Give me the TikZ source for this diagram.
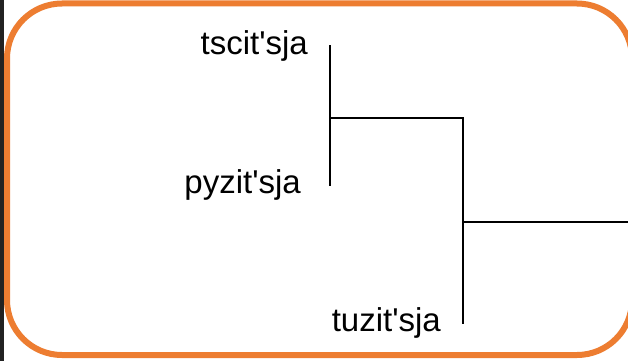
\documentclass[tikz,border=0pt]{standalone}
\usepackage{fontspec}
\setmainfont{Liberation Sans}
\usetikzlibrary{positioning}
\usepackage{xcolor}
\definecolor{framecol}{HTML}{ED7D31}
\definecolor{edgecol}{HTML}{222222}
\tikzstyle{frame}=[draw=framecol,line width=6,rounded corners=55]
\tikzstyle{branch}=[line width=2,line cap=rect]
\tikzstyle{leaf}=[font=\fontsize{33}{33}\selectfont,inner sep=0,anchor=east]

\begin{document}
\begin{tikzpicture}[x=1pt,y=-1pt]
  \useasboundingbox (0,0) rectangle (628,361);
  \fill[white] (0,0) rectangle (628,361);
  \fill[edgecol] (0,0) rectangle (4,361);
  \draw[frame] (7,3.5) rectangle (632,355);
  % tips and joints of the tree
  \coordinate (tip1) at (330,46);
  \coordinate (tip2) at (330,185);
  \coordinate (tip3) at (463,323);
  \coordinate (join1) at (330,118);
  \coordinate (join2) at (463,118);
  \coordinate (join3) at (463,222);
  \coordinate (root) at (630,222);
  \node[leaf,left=22 of tip1] (tscit) {tscit\textquotesingle sja};
  \node[leaf,left=29 of tip2] (pyzit) {pyzit\textquotesingle sja};
  \node[leaf,left=22 of tip3] (tuzit) {tuzit\textquotesingle sja};
  \draw[branch] (tip1) -- (tip2);
  \draw[branch] (join1) -- (join2) -- (tip3);
  \draw[branch] (join3) -- (root);
\end{tikzpicture}
\end{document}
